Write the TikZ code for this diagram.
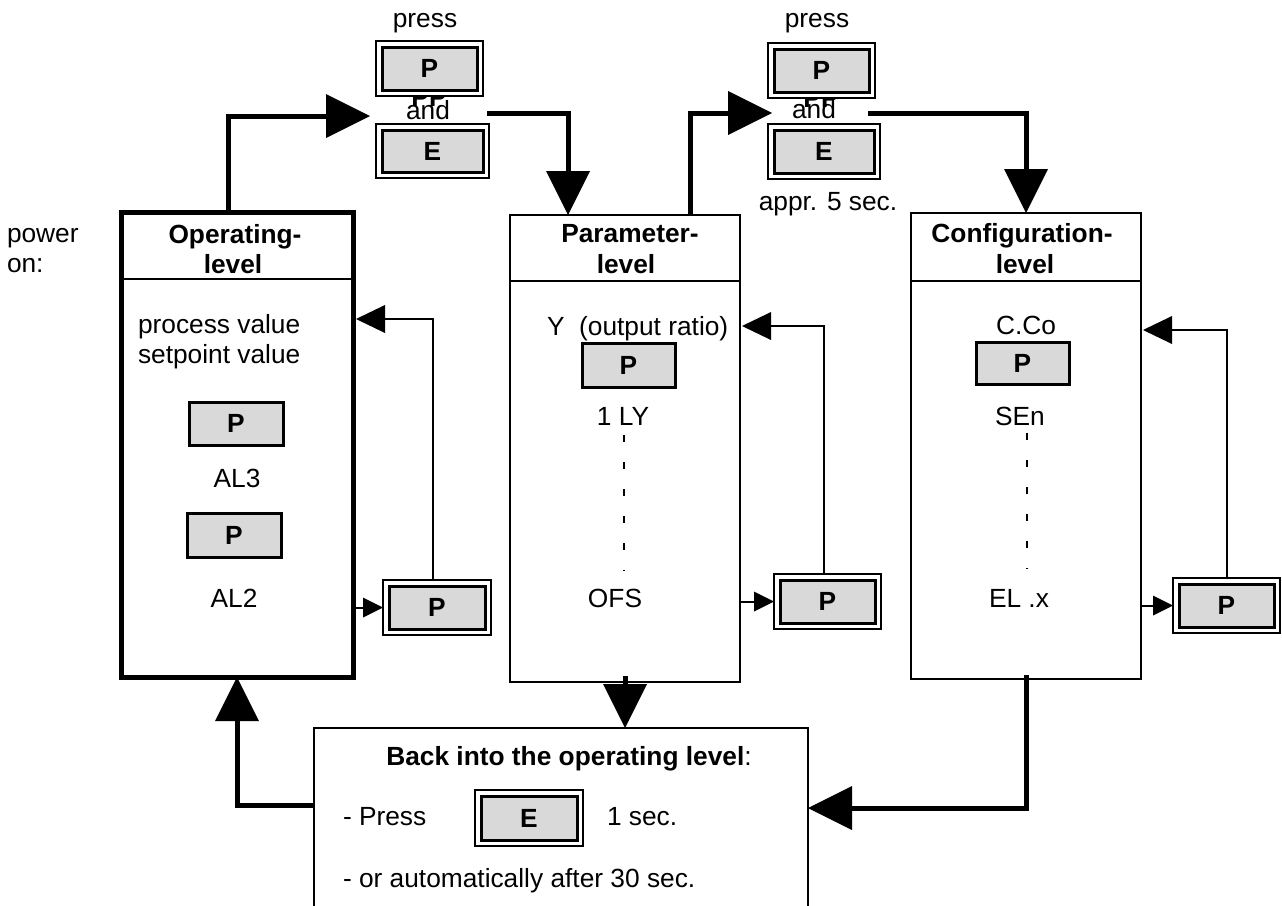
\documentclass[tikz,border=0pt]{standalone}
\usepackage{fontspec}
\setmainfont{Liberation Sans}
\usetikzlibrary{arrows.meta}
\definecolor{btngray}{RGB}{217,217,217}
\tikzset{
  txt/.style={anchor=base},
  txtl/.style={anchor=base west},
  levelbox/.style={draw, line width=2pt, rectangle, anchor=north west},
  opbox/.style={draw, line width=5pt, rectangle, anchor=north west},
  sbtn/.style={draw, line width=3pt, fill=btngray, rectangle, anchor=north west},
  dbouter/.style={draw, line width=2pt, fill=white, rectangle},
  dbinner/.style={draw, line width=3pt, fill=btngray, rectangle},
  bigarrow/.style={line width=5pt, -{Triangle[length=44pt,width=44pt,line width=0pt]}},
  fbarrow/.style={line width=2pt, -{Triangle[length=29pt,width=28pt,line width=0pt]}},
  smallarrow/.style={line width=2pt, -{Triangle[length=20pt,width=20pt,line width=0pt]}},
  dashline/.style={line width=1.5pt, dash pattern=on 7pt off 20pt},
  divider/.style={line width=2pt}
}
\newcommand\mydbtn[6]{%
  \node[dbouter, minimum width=#4pt, minimum height=#5pt, anchor=north west] (#1o) at (#2,#3) {};
  \node[dbinner, minimum width=#4pt-12pt, minimum height=#5pt-12pt] (#1) at (#1o.center) {\textbf{#6}};
}
\begin{document}
\begin{tikzpicture}[x=1pt, y=-1pt,
  every node/.style={font=\fontsize{26.3pt}{30pt}\selectfont, inner sep=0pt, outer sep=0pt}]
\useasboundingbox (0,0) rectangle (1282,905);
\clip (0,0) rectangle (1282,905);

% level boxes
\node[opbox, minimum width=232pt, minimum height=465pt] (op) at (121,212) {};
\node[levelbox, minimum width=230pt, minimum height=467pt] (par) at (510,215) {};
\node[levelbox, minimum width=230pt, minimum height=466pt] (cfg) at (911,213) {};
\node[levelbox, minimum width=494pt, minimum height=250pt] (back) at (314,728) {};

\draw[divider] ([yshift=-67pt]op.north west) -- ([yshift=-67pt]op.north east);
\draw[divider] ([yshift=-66pt]par.north west) -- ([yshift=-66pt]par.north east);
\draw[divider] ([yshift=-68pt]cfg.north west) -- ([yshift=-68pt]cfg.north east);

% top texts (drawn before the keys)
\node[txt] (press1) at (425,27) {press};
\node[txt] (pp1) at (429,106) {\textbf{PP}};
\node[txt] (and1) at (428,119) {and};
\node[txt] (press2) at (817,27) {press};
\node[txt] (pp2) at (821,107) {\textbf{PP}};
\node[txt] (and2) at (814,118) {and};
\node[txt] (appr) at (828,210) {appr. 5 sec.};

% double keys
\mydbtn{tpa}{376}{41}{107}{55}{P}
\mydbtn{tea}{376}{124}{113}{54}{E}
\mydbtn{tpb}{768}{43}{107}{55}{P}
\mydbtn{teb}{768}{124}{112}{55}{E}
\mydbtn{fpa}{383}{580}{108}{55}{P}
\mydbtn{fpb}{774}{574}{107}{55}{P}
\mydbtn{fpc}{1173}{578}{107}{55}{P}
\mydbtn{bke}{475}{790}{108}{56}{E}

% single keys
\node[sbtn, minimum width=94pt, minimum height=43pt] (opp1) at (189,402) {\textbf{P}};
\node[sbtn, minimum width=94pt, minimum height=44pt] (opp2) at (187,513) {\textbf{P}};
\node[sbtn, minimum width=93pt, minimum height=44pt] (parp) at (582,343) {\textbf{P}};
\node[sbtn, minimum width=93pt, minimum height=42pt] (cfgp) at (976,342) {\textbf{P}};

% left label
\node[txtl] (power) at (7,242) {power};
\node[txtl] (powon) at (7,272) {on:};

% operating level
\node[txt] (opt1) at (235,243) {\textbf{Operating-}};
\node[txt] (opt2) at (233,273) {\textbf{level}};
\node[txtl] (pv) at (138,333) {process value};
\node[txtl] (sv) at (138,363) {setpoint value};
\node[txt] (al3) at (237,487) {AL3};
\node[txt] (al2) at (234,607) {AL2};

% parameter level
\node[txt] (part1) at (630,242) {\textbf{Parameter-}};
\node[txt] (part2) at (626,273) {\textbf{level}};
\node[txtl] (yout) at (547,335) {Y\ \ (output ratio)};
\node[txt] (ly) at (623,425) {1 LY};
\node[txt] (ofs) at (615,607) {OFS};

% configuration level
\node[txt] (cfgt1) at (1022,242) {\textbf{Configuration-}};
\node[txt] (cfgt2) at (1025,273) {\textbf{level}};
\node[txt] (cco) at (1026,334) {C.Co};
\node[txt] (sen) at (1020,425) {SEn};
\node[txt] (elx) at (1019,607) {EL .x};

% back box texts
\node[txt] (backt) at (569,765) {\textbf{Back into the operating level}:};
\node[txtl] (press3) at (343,825) {- Press};
\node[txtl] (onesec) at (607,825) {1 sec.};
\node[txtl] (auto) at (343,887) {- or automatically after 30 sec.};

% dashed continuation lines
\draw[dashline] ([xshift=1pt,yshift=-10pt]ly.south) -- ([xshift=1pt,yshift=18pt]ly.south |- ofs.north);
\draw[dashline] ([xshift=7pt,yshift=-8pt]sen.south) -- ([xshift=7pt,yshift=20pt]sen.south |- elx.north);

% main thick arrows
\coordinate (in1) at (370,116);
\coordinate (out1) at (487,113);
\coordinate (in2) at (772,113);
\coordinate (out2) at (868,113);
\draw[bigarrow] ([xshift=-9pt]op.north) |- (in1);
\draw[bigarrow] (out1) -| ([xshift=-57pt]par.north);
\draw[bigarrow] ([xshift=65pt]par.north) |- (in2);
\draw[bigarrow] (out2) -| (cfg.north);
\draw[bigarrow] ([yshift=6pt]par.south) -- (par.south |- back.north);
\draw[bigarrow] ([yshift=-77pt]back.north west) -| (op.south);
\draw[bigarrow] ([yshift=4pt]cfg.south) |- ([yshift=-80pt]back.north east);

% feedback arrows
\draw[fbarrow] ([xshift=-4pt]fpao.north) |- ([xshift=3pt,yshift=-107pt]op.north east);
\draw[fbarrow] ([xshift=-4pt]fpbo.north) |- ([xshift=2pt,yshift=-111pt]par.north east);
\draw[fbarrow] (fpco.north) |- ([xshift=2pt,yshift=-117pt]cfg.north east);

% small arrows to keys
\draw[smallarrow] (fpao.west -| op.east) -- (fpao.west);
\draw[smallarrow] (fpbo.west -| par.east) -- (fpbo.west);
\draw[smallarrow] (fpco.west -| cfg.east) -- (fpco.west);
\end{tikzpicture}
\end{document}
